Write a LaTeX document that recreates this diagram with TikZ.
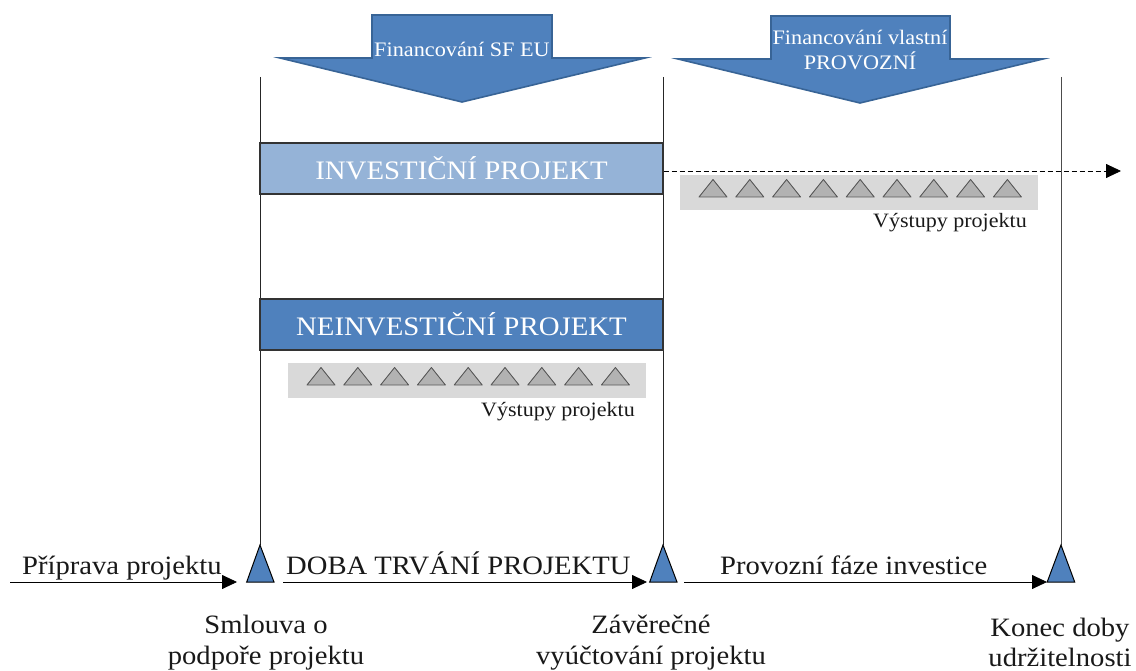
\documentclass[tikz,border=0pt]{standalone}
\usepackage{fontspec}
\setmainfont[FakeStretch=1.08]{Liberation Serif}
\usetikzlibrary{arrows.meta}
\definecolor{blueA}{RGB}{79,129,189}
\definecolor{blueB}{RGB}{149,179,215}
\definecolor{edgeB}{RGB}{56,100,150}
\definecolor{grayband}{RGB}{217,217,217}
\definecolor{grayfill}{RGB}{178,178,178}
\tikzset{
  x=1pt,y=-1pt,
  vline/.style={draw=black!85,line width=1pt},
  phasebox/.style={draw=black!80,line width=1.2pt,minimum width=403pt,minimum height=51pt,inner sep=0pt,text=white,font=\fontsize{26.7}{26.7}\selectfont},
  bignote/.style={draw=edgeB,fill=blueA,line width=1.6pt,line join=miter},
  band/.style={fill=grayband,draw=none,minimum width=358pt,minimum height=35pt,inner sep=0pt},
  outmark/.style={draw=black!65,fill=grayfill,line width=0.9pt,line join=round},
  milestone/.style={draw=black,fill=blueA,line width=1pt},
  flow/.style={draw=black,line width=0.8pt,-{Triangle[length=15pt,width=14pt]}},
  lab/.style={inner sep=0pt,font=\fontsize{26.5}{30.5}\selectfont,align=center,text=black!90},
  flab/.style={inner sep=0pt,text=white,font=\fontsize{20.6}{25}\selectfont,align=center},
  olab/.style={inner sep=0pt,font=\fontsize{20.4}{22}\selectfont,text=black!90}
}
\begin{document}
\begin{tikzpicture}
\useasboundingbox (0,0) rectangle (1136,671);
% verticals
\coordinate (t1) at (260,77); \coordinate (t2) at (663,77); \coordinate (t3) at (1061,77);
\coordinate (m1) at (260,545); \coordinate (m2) at (663,545); \coordinate (m3) at (1061,545);
\draw[vline] (t1)--(m1);
\draw[vline] (t2)--(m2);
\draw[vline,draw=black!70] (t3)--(m3);
% block arrows
\draw[bignote] (372,15)--(552,15)--(552,58)--(645,58)--(462,102)--(280,58)--(372,58)--cycle;
\node[flab] (fin1) at (462,49) {Financování SF EU};
\draw[bignote] (771,16)--(950,16)--(950,59)--(1043,59)--(860,103)--(678,59)--(771,59)--cycle;
\node[flab] (fin2) at (860,50) {Financování vlastní\\PROVOZNÍ};
% boxes
\node[phasebox,fill=blueB] (inv) at (461.5,168.5) {INVESTIČNÍ PROJEKT};
\node[phasebox,fill=blueA] (neinv) at (461.5,324.5) {NEINVESTIČNÍ PROJEKT};
% dashed
\coordinate (dashend) at (1121,171);
\draw[black,line width=0.8pt,dash pattern=on 5pt off 3pt,-{Triangle[length=15pt,width=14pt,fill=black]}] (inv.east |- dashend)--(dashend);
% bands
\node[band] (b1) at (858.5,192.5) {};
\node[band] (b2) at (466.5,380.5) {};
\foreach \i in {0,...,8}{
  \draw[outmark] ({713+36.8*\i-14},197)--({713+36.8*\i},179.5)--({713+36.8*\i+14},197)--cycle;
  \draw[outmark] ({321+36.8*\i-14},385)--({321+36.8*\i},367.5)--({321+36.8*\i+14},385)--cycle;
}
\node[olab] (o1) at (950,223) {Výstupy projektu};
\node[olab] (o2) at (558,412) {Výstupy projektu};
% milestones
\draw[milestone] (246.7,582)--(260,545)--(274,582)--cycle;
\draw[milestone] (649.7,582)--(663,545)--(677,582)--cycle;
\draw[milestone] (1047.2,582)--(1061,545)--(1074.7,582)--cycle;
% flows
\coordinate (a0) at (10,582); \coordinate (a1) at (237,582);
\coordinate (b0) at (283,582); \coordinate (b1e) at (647,582);
\coordinate (c0) at (684,582); \coordinate (c1) at (1047,582);
\draw[flow] (a0)--(a1);
\draw[flow] (b0)--(b1e);
\draw[flow] (c0)--(c1);
\node[lab,anchor=base west] (l1) at (22,574) {Příprava projektu};
\node[lab,anchor=base west] (l2) at (286,574) {DOBA TRVÁNÍ PROJEKTU};
\node[lab,anchor=base west] (l3) at (720,574) {Provozní fáze investice};
\node[lab] (s1) at (266,642.5) {Smlouva o\\podpoře projektu};
\node[lab] (s2) at (651,642.5) {Závěrečné\\vyúčtování projektu};
\node[lab] (s3) at (1060,642.5) {Konec doby\\udržitelnosti};
\end{tikzpicture}
\end{document}
